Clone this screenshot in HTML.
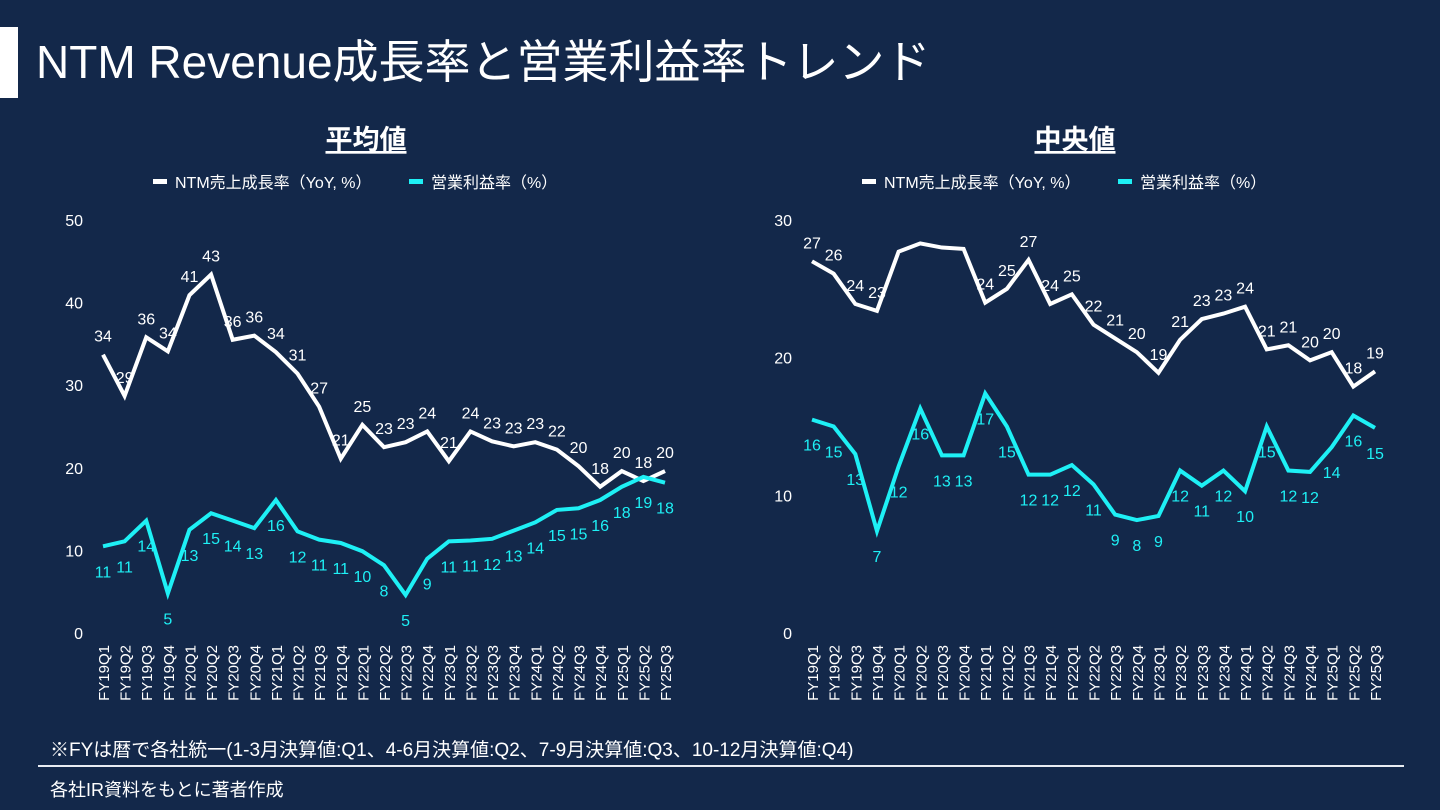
<!DOCTYPE html>
<html><head><meta charset="utf-8"><style>
body{margin:0;width:1440px;height:810px;background:#13284a;overflow:hidden;font-family:"Liberation Sans","Noto Sans CJK JP",sans-serif;color:#fff}
.t{position:absolute;white-space:nowrap}
</style></head><body>
<div class="t" style="left:0;top:27px;width:18px;height:71px;background:#fff"></div>
<div class="t" style="left:36px;top:35px;font-size:46px;line-height:54px">NTM Revenue成長率と営業利益率トレンド</div>
<div class="t" style="left:50px;top:735px;font-size:19px">※FYは暦で各社統一(1-3月決算値:Q1、4-6月決算値:Q2、7-9月決算値:Q3、10-12月決算値:Q4)</div>
<div class="t" style="left:38px;top:765px;width:1366px;height:2px;background:#e8ecf2"></div>
<div class="t" style="left:50px;top:776px;font-size:18px">各社IR資料をもとに著者作成</div>
<svg id="svg" width="1440" height="810" style="position:absolute;left:0;top:0"></svg>
<script>
const categories=["FY19Q1","FY19Q2","FY19Q3","FY19Q4","FY20Q1","FY20Q2","FY20Q3","FY20Q4","FY21Q1","FY21Q2","FY21Q3","FY21Q4","FY22Q1","FY22Q2","FY22Q3","FY22Q4","FY23Q1","FY23Q2","FY23Q3","FY23Q4","FY24Q1","FY24Q2","FY24Q3","FY24Q4","FY25Q1","FY25Q2","FY25Q3"];
const meanNtm=[33.7,28.7,35.8,34.1,40.9,43.4,35.5,36.0,34.0,31.4,27.4,21.1,25.2,22.5,23.1,24.4,20.8,24.4,23.2,22.6,23.1,22.2,20.2,17.7,19.6,18.4,19.6];
const meanOpm=[10.5,11.1,13.6,4.8,12.5,14.5,13.6,12.7,16.1,12.3,11.3,10.9,9.9,8.2,4.6,9.0,11.1,11.2,11.4,12.4,13.4,14.9,15.1,16.1,17.7,18.9,18.2];
const medNtm=[27.0,26.1,23.9,23.4,27.7,28.3,28.0,27.9,24.0,25.0,27.1,23.9,24.6,22.4,21.4,20.4,18.9,21.3,22.8,23.2,23.7,20.6,20.9,19.8,20.4,17.9,19.0];
const medOpm=[15.5,15.0,13.0,7.4,12.1,16.3,12.9,12.9,17.4,15.0,11.5,11.5,12.2,10.8,8.6,8.2,8.5,11.8,10.7,11.8,10.3,15.0,11.8,11.7,13.5,15.8,14.9];
const meanNtmLbl=[34,29,36,34,41,43,36,36,34,31,27,21,25,23,23,24,21,24,23,23,23,22,20,18,20,18,20];
const meanOpmLbl=[11,11,14,5,13,15,14,13,16,12,11,11,10,8,5,9,11,11,12,13,14,15,15,16,18,19,18];
const medNtmLbl=[27,26,24,23,28,28,28,28,24,25,27,24,25,22,21,20,19,21,23,23,24,21,21,20,20,18,19];
const medOpmLbl=[16,15,13,7,12,16,13,13,17,15,12,12,12,11,9,8,9,12,11,12,10,15,12,12,14,16,15];
const meanTicks=[0,10,20,30,40,50];
const medTicks=[0,10,20,30];
const medNtmHide=[4,5,6,7];
const NS="http://www.w3.org/2000/svg";
const svg=document.getElementById('svg');
function mk(tag,attrs,txt){const e=document.createElementNS(NS,tag);for(const k in attrs)e.setAttribute(k,attrs[k]);if(txt!==undefined)e.textContent=txt;svg.appendChild(e);return e;}
function chart(name,x0,x1,yMax,ticks,ntm,opm,ntmL,opmL,hide,title,cx){
  const y0=633,yTop=220;
  const X=i=>x0+i*(x1-x0)/(categories.length-1);
  const Y=v=>y0-v*(y0-yTop)/yMax;
  const ti=mk('text',{x:cx,y:149,'text-anchor':'middle','font-size':27,fill:'#fff','font-weight':'bold','text-decoration':'underline'},title);
  
  mk('rect',{x:cx-213,y:179,width:14,height:5,fill:'#fff'});
  let l=mk('text',{x:cx-191,y:188,'font-size':16,fill:'#fff'},'NTM売上成長率（YoY, %）');
  
  mk('rect',{x:cx+43,y:179,width:14,height:5,fill:'#1ef0f5'});
  l=mk('text',{x:cx+65,y:188,'font-size':16,fill:'#fff'},'営業利益率（%）');
  
  ticks.forEach(t=>{const e=mk('text',{x:x0-20,y:Y(t)+6,'text-anchor':'end','font-size':16,fill:'#fff'},t);
    });
  categories.forEach((c,i)=>{const e=mk('text',{transform:`translate(${X(i)+6},645) rotate(-90)`,'text-anchor':'end','font-size':15,fill:'#fff'},c);
    });
  [[ntm,ntmL,'#fff','ntm',-13,hide],[opm,opmL,'#1ef0f5','opm',31,[]]].forEach(([d,lb,col,k,off,h])=>{
    const p=mk('polyline',{points:d.map((v,i)=>X(i)+','+Y(v)).join(' '),fill:'none',stroke:col,'stroke-width':4,'stroke-linejoin':'miter'});
    
    d.forEach((v,i)=>{if(h.includes(i))return;
      const e=mk('text',{x:X(i),y:Y(v)+off,'text-anchor':'middle','font-size':16,fill:col},lb[i]);
      });
  });
}
chart('mean-chart',103,665,50,meanTicks,meanNtm,meanOpm,meanNtmLbl,meanOpmLbl,[],'平均値',366);
chart('median-chart',812,1375,30,medTicks,medNtm,medOpm,medNtmLbl,medOpmLbl,medNtmHide,'中央値',1075);
</script>
</body></html>
